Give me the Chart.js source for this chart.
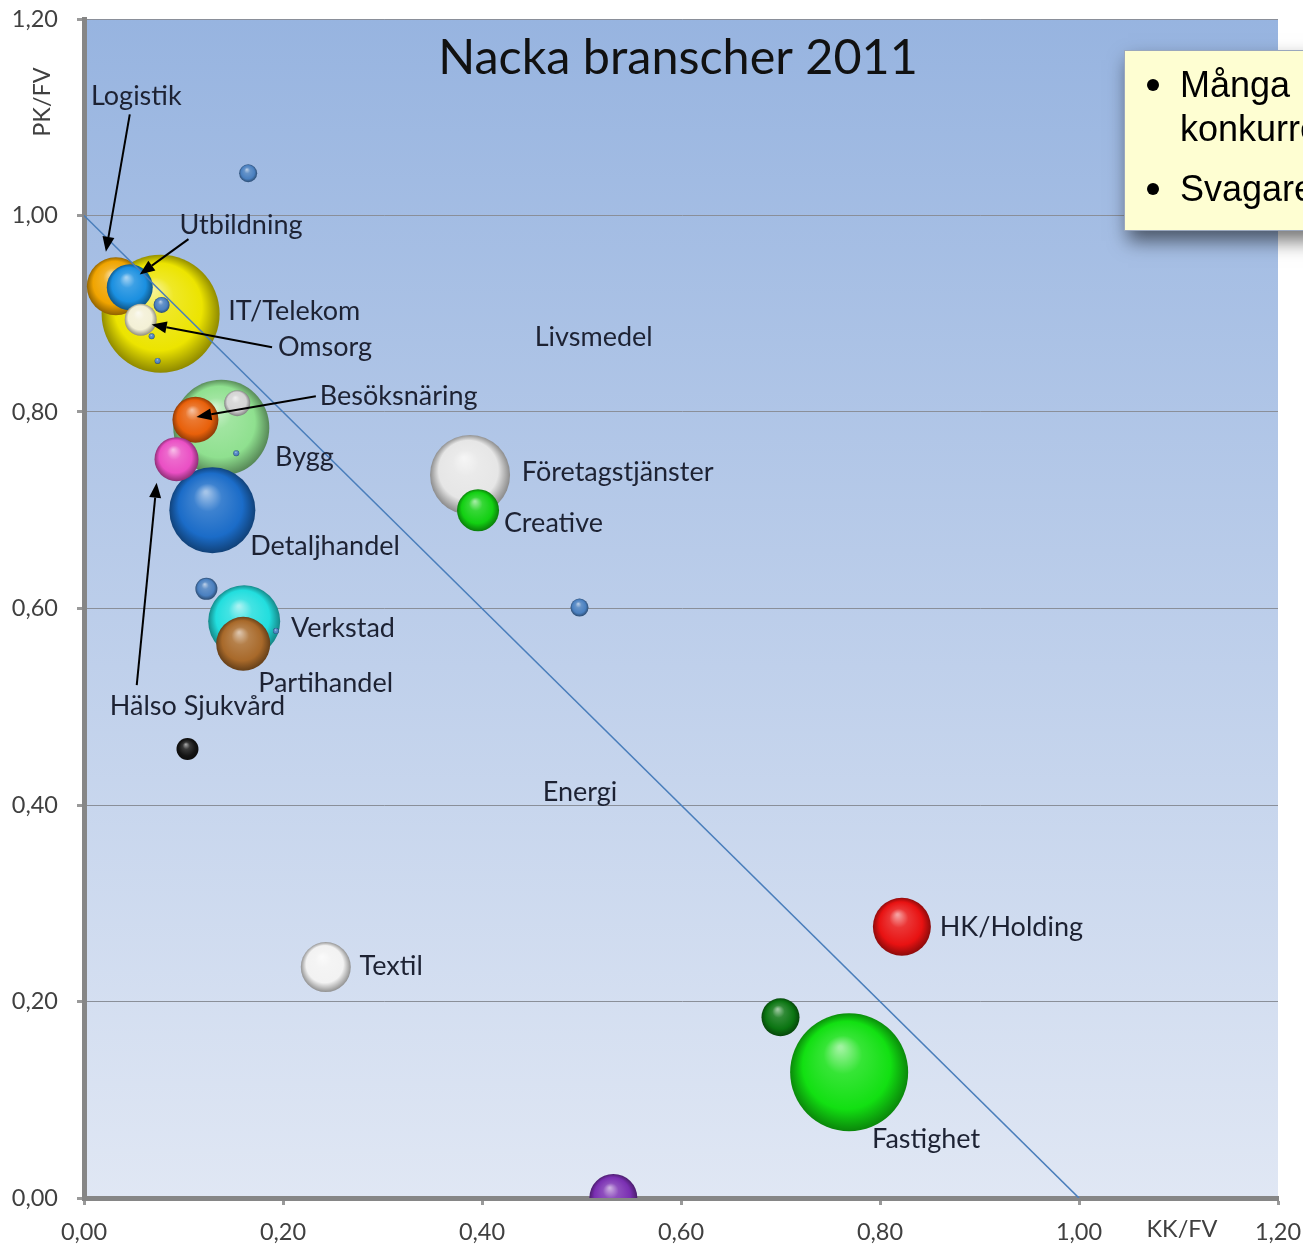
<!DOCTYPE html>
<html>
<head>
<meta charset="utf-8">
<script src="https://cdn.jsdelivr.net/npm/chart.js@4.4.1/dist/chart.umd.min.js"></script>
<style>
html,body{margin:0;padding:0;background:#fff;}
#wrap{width:1303px;height:1248px;position:relative;}
canvas{display:block;}
</style>
</head>
<body>
<div id="wrap"><canvas id="c" width="1303" height="1248"></canvas></div>
<script>
// ---- Data (drawing order: back to front) ----
const bubbleNames = ['IT/Telekom','Logistik','Utbildning','','Omsorg','','','','Bygg','','Detaljhandel','Besöksnäring','','Hälso Sjukvård','','Verkstad','','Partihandel','','Företagstjänster','Creative','','Textil','HK/Holding','','Fastighet',''];
const kkfv = [0.077,0.032,0.046,0.078,0.057,0.068,0.074,0.165,0.138,0.153,0.129,0.112,0.154,0.093,0.123,0.161,0.193,0.160,0.104,0.388,0.396,0.498,0.243,0.822,0.700,0.769,0.532];
const pkfv = [0.900,0.928,0.927,0.909,0.894,0.877,0.852,1.043,0.784,0.758,0.700,0.792,0.809,0.752,0.620,0.587,0.577,0.564,0.457,0.736,0.700,0.601,0.235,0.276,0.184,0.128,0.000];
const bubbleSize = [59,29,23,8,16,3,3,9,48,3,43,23,13,22,11,36,3,27,11,40,21,9,25,29,19,59,24];
const bubbleColors = ['#ece400','#f0a400','#1a8fe0','#4a80c0','#f3f0d6','#4a80c0','#4a80c0','#4a80c0','#8fe08f','#4a80c0','#1b6cc8','#e8600a','#d4d4d4','#ea4fc4','#4a80c0','#22dede','#4a80c0','#a8692a','#151515','#e6e6e6','#12d012','#4a80c0','#f2f2f2','#e81212','#0b7512','#12e012','#7a2fb2'];

const xTicks = [0,0.2,0.4,0.6,0.8,1.0,1.2];
const yTicks = [0,0.2,0.4,0.6,0.8,1.0,1.2];
const diagonal = [{x:0,y:1},{x:1,y:0}];

// text annotations (data coordinates)
const annoText = ['Logistik','Utbildning','IT/Telekom','Omsorg','Livsmedel','Besöksnäring','Bygg','Företagstjänster','Creative','Detaljhandel','Verkstad','Partihandel','Hälso Sjukvård','Energi','HK/Holding','Textil','Fastighet'];
const annoX = [0.007,0.096,0.145,0.195,0.453,0.237,0.192,0.440,0.422,0.167,0.208,0.175,0.026,0.461,0.860,0.277,0.792];
const annoY = [1.121,0.990,0.902,0.866,0.876,0.816,0.754,0.739,0.687,0.663,0.580,0.524,0.500,0.413,0.276,0.236,0.060];
// arrows: from (x1,y1) to (x2,y2)
const arrowFromX = [0.046,0.105,0.189,0.233,0.053];
const arrowFromY = [1.103,0.976,0.866,0.816,0.522];
const arrowToX   = [0.022,0.056,0.068,0.113,0.073];
const arrowToY   = [0.963,0.940,0.889,0.795,0.728];

const noteLines = [['•','Många'],['','konkurrens'],['•','Svagare']];

function hexToRgb(h){h=h.replace('#','');return [parseInt(h.substr(0,2),16),parseInt(h.substr(2,2),16),parseInt(h.substr(4,2),16)];}
function mix(c, t, a){const r=hexToRgb(c);return 'rgb('+r.map((v,i)=>Math.round(v+(t[i]-v)*a)).join(',')+')';}

function sphereFill(ctx){
  const base = bubbleColors[ctx.dataIndex] || '#4a80c0';
  if (ctx.type !== 'data' || !ctx.raw) return base;
  const chart = ctx.chart, xs = chart.scales && chart.scales.x, ys = chart.scales && chart.scales.y;
  if (!xs || !ys) return base;
  const px = xs.getPixelForValue(ctx.raw.x), py = ys.getPixelForValue(ctx.raw.y), r = ctx.raw.r;
  if (![px,py,r].every(Number.isFinite)) return base;
  const g = chart.ctx.createRadialGradient(px - r*0.15, py - r*0.42, r*0.03, px, py, r*1.02);
  g.addColorStop(0, mix(base,[255,255,255],0.6));
  g.addColorStop(0.3, mix(base,[255,255,255],0.15));
  g.addColorStop(0.72, base);
  g.addColorStop(1, mix(base,[0,0,0],0.42));
  return g;
}

const bgPlugin = {
  id:'bg',
  beforeDraw(chart){
    const {ctx, chartArea:a} = chart;
    const g = ctx.createLinearGradient(0,a.top,0,a.bottom);
    g.addColorStop(0,'#97b4e0');
    g.addColorStop(1,'#e0e7f4');
    ctx.save();
    ctx.fillStyle = g;
    ctx.fillRect(a.left,a.top,a.right-a.left,a.bottom-a.top);
    ctx.restore();
  }
};

const FONT = 'Lato, "Open Sans", sans-serif';

const annoPlugin = {
  id:'anno',
  afterDraw(chart){
    const {ctx, scales:{x,y}} = chart;
    ctx.save();
    // title
    ctx.fillStyle = '#111';
    ctx.font = '48.5px ' + FONT;
    ctx.textAlign = 'center'; ctx.textBaseline = 'middle';
    ctx.fillText('Nacka branscher 2011', 678, 58);
    // labels
    ctx.font = '27px ' + FONT;
    ctx.fillStyle = '#1d2233';
    ctx.textAlign = 'left';
    annoText.forEach((t,i)=>{
      ctx.fillText(t, x.getPixelForValue(annoX[i]), y.getPixelForValue(annoY[i]));
    });
    // arrows
    ctx.strokeStyle = '#000'; ctx.fillStyle = '#000'; ctx.lineWidth = 2;
    arrowFromX.forEach((_,i)=>{
      const x1=x.getPixelForValue(arrowFromX[i]), y1=y.getPixelForValue(arrowFromY[i]);
      const x2=x.getPixelForValue(arrowToX[i]), y2=y.getPixelForValue(arrowToY[i]);
      const ang = Math.atan2(y2-y1,x2-x1), L=15, W=6;
      const bx = x2 - L*Math.cos(ang), by = y2 - L*Math.sin(ang);
      ctx.beginPath(); ctx.moveTo(x1,y1); ctx.lineTo(bx,by); ctx.stroke();
      ctx.beginPath(); ctx.moveTo(x2,y2);
      ctx.lineTo(bx + W*Math.sin(ang), by - W*Math.cos(ang));
      ctx.lineTo(bx - W*Math.sin(ang), by + W*Math.cos(ang));
      ctx.closePath(); ctx.fill();
    });
    // axis titles
    ctx.fillStyle = '#404040';
    ctx.font = '23.5px ' + FONT;
    ctx.textAlign = 'center'; ctx.textBaseline = 'middle';
    ctx.fillText('KK/FV', 1182, 1229);
    ctx.save();
    ctx.translate(42, 102); ctx.rotate(-Math.PI/2);
    ctx.fillText('PK/FV', 0, 0);
    ctx.restore();
    // note box
    ctx.save();
    ctx.shadowColor = 'rgba(0,0,0,0.55)';
    ctx.shadowBlur = 18; ctx.shadowOffsetX = 4; ctx.shadowOffsetY = 10;
    ctx.fillStyle = '#fefed2';
    ctx.fillRect(1124, 50, 200, 181);
    ctx.restore();
    ctx.strokeStyle = '#9aa7bd'; ctx.lineWidth = 1;
    ctx.strokeRect(1124.5, 50.5, 200, 180);
    ctx.fillStyle = '#000';
    ctx.font = '36px "Liberation Sans", Arial, sans-serif';
    ctx.textAlign = 'left'; ctx.textBaseline = 'alphabetic';
    const baselines = [97, 141, 201];
    noteLines.forEach((ln,i)=>{
      if (ln[0]) { ctx.beginPath(); ctx.arc(1153, baselines[i]-12, 6, 0, Math.PI*2); ctx.fill(); }
      ctx.fillText(ln[1], 1180, baselines[i]);
    });
    ctx.restore();
  }
};

const fmt = v => v.toFixed(2).replace('.', ',');

new Chart(document.getElementById('c'), {
  data: {
    datasets: [
      { type:'line', data: diagonal, borderColor:'#4a7ebb', borderWidth:1.6, pointRadius:0, fill:false, tension:0 },
      { type:'bubble', clip: 0,
        data: kkfv.map((v,i)=>({x:v, y:pkfv[i], r:bubbleSize[i], name:bubbleNames[i]})),
        backgroundColor: sphereFill, borderWidth:0, hoverRadius:0 }
    ]
  },
  options: {
    responsive:false, animation:false, events:[],
    layout:{ autoPadding:false, padding:{ top:19, right:25, left:0, bottom:0 } },
    plugins:{ legend:{display:false}, tooltip:{enabled:false}, title:{display:false} },
    scales:{
      x:{ type:'linear', min:0, max:1.2,
        afterBuildTicks(s){ s.ticks = xTicks.map(v=>({value:v})); },
        afterFit(s){ s.height = 50; s.paddingLeft = 0; s.paddingRight = 0; },
        border:{ display:true, color:'#868686', width:5 },
        grid:{ drawOnChartArea:false, drawTicks:true, tickLength:7, tickColor:'#9a9a9a', tickWidth:3 },
        ticks:{ callback:v=>fmt(v), color:'#404040', font:{family:FONT, size:23.5}, padding:13, maxRotation:0, autoSkip:false }
      },
      y:{ type:'linear', min:0, max:1.2,
        afterBuildTicks(s){ s.ticks = yTicks.map(v=>({value:v})); },
        afterFit(s){ s.width = 84; s.paddingTop = 0; s.paddingBottom = 0; },
        border:{ display:true, color:'#868686', width:5 },
        grid:{ color:'#8a8f99', lineWidth:1, drawTicks:true, tickLength:7, tickColor:'#9a9a9a', tickWidth:3 },
        ticks:{ callback:v=>fmt(v), color:'#404040', font:{family:FONT, size:23.5}, padding:19, autoSkip:false }
      }
    }
  },
  plugins:[bgPlugin, annoPlugin]
});
</script>
</body>
</html>
